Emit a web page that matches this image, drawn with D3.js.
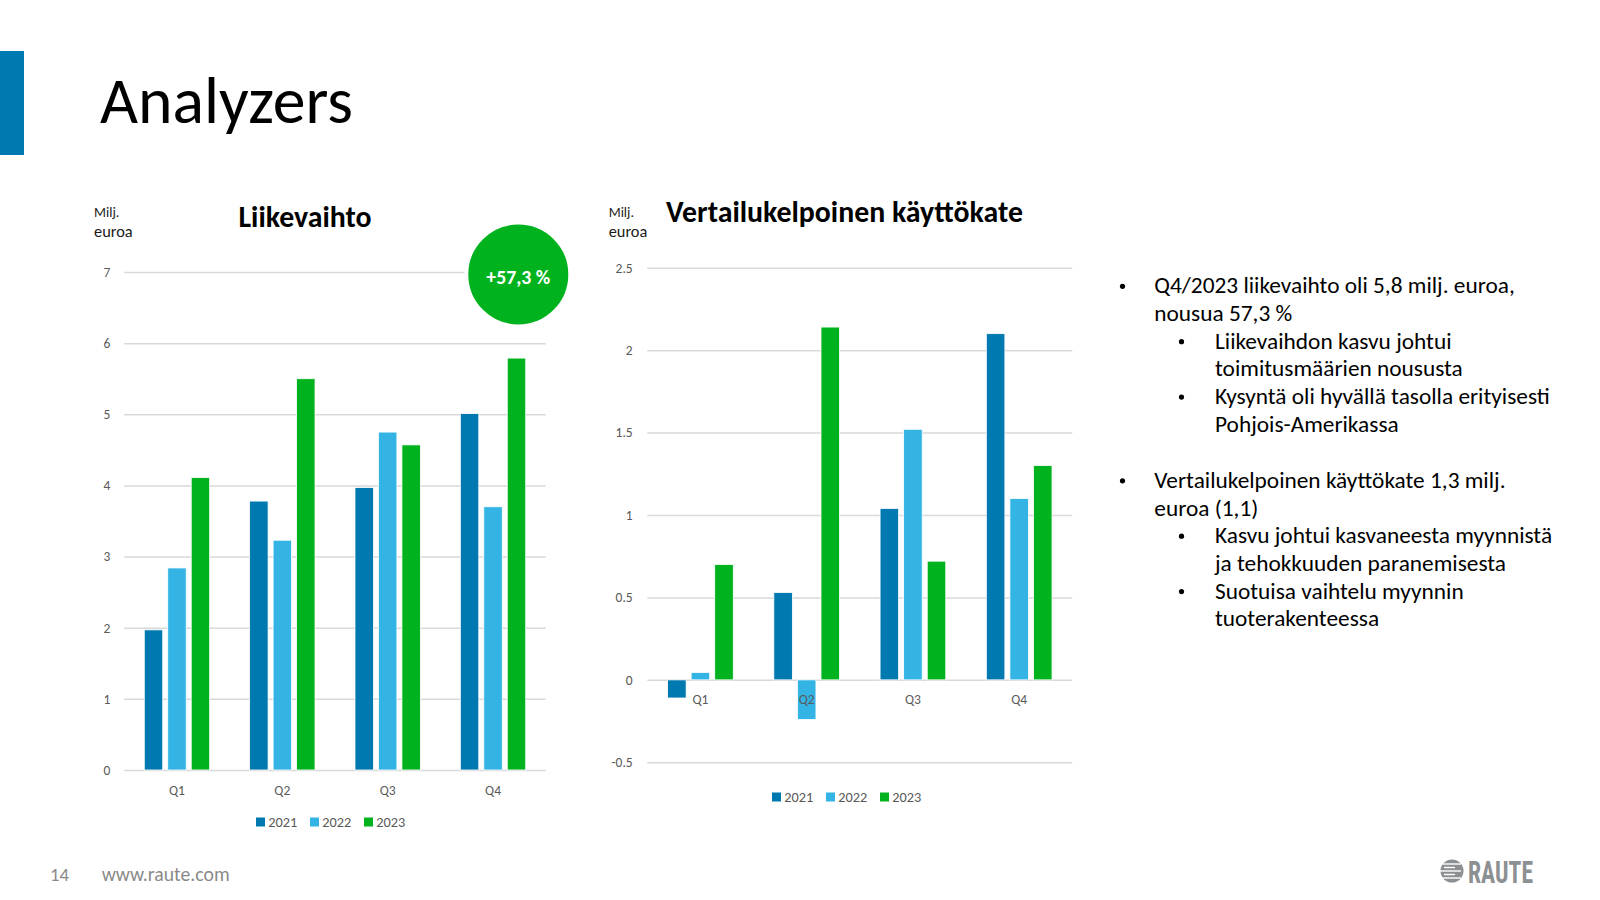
<!DOCTYPE html>
<html><head><meta charset="utf-8">
<script src="https://cdn.jsdelivr.net/npm/d3@7"></script>
<style>
html,body{margin:0;padding:0;background:#fff;}
svg{display:block;font-family:Carlito,Calibri,Lato,"Open Sans",sans-serif;}
</style></head>
<body><svg id="c" width="1600" height="900"></svg>
<script>
const quarters = ["Q1","Q2","Q3","Q4"];
const years = ["2021","2022","2023"];
const revenue2021 = [1.97, 3.78, 3.97, 5.01];
const revenue2022 = [2.84, 3.23, 4.75, 3.70];
const revenue2023 = [4.11, 5.50, 4.57, 5.79];
const ebitda2021 = [-0.11, 0.53, 1.04, 2.10];
const ebitda2022 = [0.045, -0.24, 1.52, 1.10];
const ebitda2023 = [0.70, 2.14, 0.72, 1.30];
const revenueTicks = [0,1,2,3,4,5,6,7];
const ebitdaTicks = [-0.5,0,0.5,1,1.5,2,2.5];
const ebitdaTickLabels = ["-0.5","0","0.5","1","1.5","2","2.5"];
const colors = ["#0079B0","#33B4E4","#00B31E"];
const bullets = [
  {lvl:0, t:"Q4/2023 liikevaihto oli 5,8 milj. euroa,", b:true},
  {lvl:0, t:"nousua 57,3 %"},
  {lvl:1, t:"Liikevaihdon kasvu johtui", b:true},
  {lvl:1, t:"toimitusmäärien noususta"},
  {lvl:1, t:"Kysyntä oli hyvällä tasolla erityisesti", b:true},
  {lvl:1, t:"Pohjois-Amerikassa"},
  {lvl:0, t:"Vertailukelpoinen käyttökate 1,3 milj.", b:true, gap:true},
  {lvl:0, t:"euroa (1,1)"},
  {lvl:1, t:"Kasvu johtui kasvaneesta myynnistä", b:true},
  {lvl:1, t:"ja tehokkuuden paranemisesta"},
  {lvl:1, t:"Suotuisa vaihtelu myynnin", b:true},
  {lvl:1, t:"tuoterakenteessa"}
];

const svg = d3.select("#c");

function fit(sel, w){
  const n = sel.node();
  const cur = parseFloat(sel.attr("font-size"));
  const m = n.getComputedTextLength();
  if (m > 0) sel.attr("font-size", (cur * w / m).toFixed(2));
  return sel;
}

// header
svg.append("rect").attr("x",0).attr("y",51).attr("width",24).attr("height",104).attr("fill","#0079B0");
fit(svg.append("text").attr("x",100).attr("y",123).attr("font-size",58).attr("fill","#000").text("Analyzers"), 253);

// footer
svg.append("text").attr("x",50).attr("y",880.5).attr("font-size",16).attr("fill","#8a8a8a").text("14").call(s=>fit(s,19));
svg.append("text").attr("x",101.7).attr("y",880.5).attr("font-size",16).attr("fill","#8a8a8a").text("www.raute.com").call(s=>fit(s,128));

// logo
const logo = svg.append("g");
logo.append("circle").attr("cx",1452).attr("cy",871).attr("r",11.5).attr("fill","#8d9093");
[-7,-3.5,0,3.5,7].forEach((dy,i)=>{
  logo.append("line").attr("x1",1440+(i%2)*4).attr("x2",1461-(i%2)*6).attr("y1",871+dy).attr("y2",871+dy)
    .attr("stroke","#fff").attr("stroke-width",1.4);
});
logo.append("text").attr("x",1468).attr("y",883).attr("font-size",32).attr("font-weight","bold")
  .attr("font-family","'Liberation Sans Narrow','Roboto Condensed','Arial Narrow','Liberation Sans',sans-serif")
  .attr("textLength",65).attr("lengthAdjust","spacingAndGlyphs")
  .attr("fill","#8d9093").text("RAUTE");

function chart(opt){
  const g = svg.append("g");
  const x = d3.scaleBand().domain(quarters).range([opt.x0, opt.x1]);
  const xs = d3.scaleBand().domain(years).range([-opt.gw/2, opt.gw/2]).paddingInner(0.213);
  const y = d3.scaleLinear().domain(opt.domain).range([opt.yb, opt.yt]);
  // grid + tick labels via axis
  const ax = g.append("g").attr("transform",`translate(${opt.x0},0)`)
    .call(d3.axisLeft(y).tickValues(opt.ticks).tickSize(-(opt.x1-opt.x0)).tickPadding(opt.pad)
      .tickFormat((d,i)=>opt.labels[i]));
  ax.select(".domain").remove();
  ax.selectAll(".tick line").attr("stroke","#D9D9D9").attr("stroke-width",1.5);
  ax.selectAll(".tick text").attr("fill","#595959").attr("font-size",13.5)
    .attr("font-family","Carlito,Calibri,Lato,sans-serif");
  if (opt.circle) {
    g.append("circle").attr("cx",518.3).attr("cy",274.5).attr("r",52).attr("fill","#00B31E")
      .attr("stroke","#fff").attr("stroke-width",4);
    g.append("text").attr("x",518.3).attr("y",284).attr("text-anchor","middle").attr("font-weight","bold")
      .attr("font-size",17).attr("fill","#fff").text("+57,3 %").call(s=>fit(s,64));
  }
  // bars
  const series = opt.series;
  const grp = g.selectAll(".q").data(quarters).join("g")
    .attr("transform",d=>`translate(${x(d)+x.bandwidth()/2},0)`);
  grp.selectAll("rect").data((q,qi)=>years.map((yr,si)=>({yr, v:series[si][qi], c:colors[si]})))
    .join("rect")
    .attr("x",d=>xs(d.yr)).attr("width",xs.bandwidth())
    .attr("y",d=>Math.min(y(d.v),y(0))).attr("height",d=>Math.abs(y(d.v)-y(0)))
    .attr("fill",d=>d.c).attr("stroke","#fff").attr("stroke-width",0.8);
  // x labels
  g.selectAll(".ql").data(quarters).join("text")
    .attr("x",d=>x(d)+x.bandwidth()/2).attr("y",opt.qy).attr("text-anchor","middle")
    .attr("font-size",13.5).attr("fill","#595959").text(d=>d);
  // legend
  years.forEach((yr,i)=>{
    g.append("rect").attr("x",opt.lx+i*54).attr("y",opt.ly-4.5).attr("width",9).attr("height",9).attr("fill",colors[i]);
    g.append("text").attr("x",opt.lx+12.3+i*54).attr("y",opt.ly+4.8).attr("font-size",13.5).attr("fill","#595959").text(yr).call(s=>fit(s,29));
  });
  // unit label
  g.append("text").attr("x",opt.ux).attr("y",217).attr("font-size",14).attr("fill","#1a1a1a").text("Milj.");
  g.append("text").attr("x",opt.ux).attr("y",236.5).attr("font-size",14).attr("fill","#1a1a1a").text("euroa").call(s=>fit(s,38.7));
  // title
  const t = g.append("text").attr("y",opt.ty).attr("font-size",25).attr("font-weight","bold").attr("fill","#000").text(opt.title);
  fit(t, opt.tw);
  if (opt.tcenter) t.attr("x",opt.tx).attr("text-anchor","middle"); else t.attr("x",opt.tx);
}

chart({x0:124.3, x1:545.7, gw:65.4, domain:[0,7], yb:770, yt:272, ticks:revenueTicks,
  labels:revenueTicks.map(String), pad:14, series:[revenue2021,revenue2022,revenue2023],
  qy:795, lx:256, ly:822, ux:94, title:"Liikevaihto", ty:227, tx:305, tw:133, tcenter:true, circle:true});

chart({x0:647.3, x1:1072.3, gw:65.7, domain:[-0.5,2.5], yb:762.3, yt:267.7, ticks:ebitdaTicks,
  labels:ebitdaTickLabels, pad:14.6, series:[ebitda2021,ebitda2022,ebitda2023],
  qy:704, lx:772, ly:797, ux:608.7, title:"Vertailukelpoinen käyttökate", ty:222.3, tx:666, tw:357, tcenter:false});

// bullets
const bg = svg.append("g");
let fs = 20;
const probe = bg.append("text").attr("font-size",20).text(bullets[0].t);
fs = 20 * 360.7 / probe.node().getComputedTextLength();
probe.remove();
let yy = 293.3;
bullets.forEach((b,i)=>{
  if (i>0) yy += b.gap ? 56 : 27.7;
  const tx = b.lvl===0 ? 1154.3 : 1215;
  const bx = b.lvl===0 ? 1122.5 : 1181.5;
  if (b.b) bg.append("circle").attr("cx",bx).attr("cy",yy-7).attr("r",2.6).attr("fill","#000");
  bg.append("text").attr("x",tx).attr("y",yy).attr("font-size",fs.toFixed(2)).attr("fill","#000").text(b.t);
});
</script></body></html>
